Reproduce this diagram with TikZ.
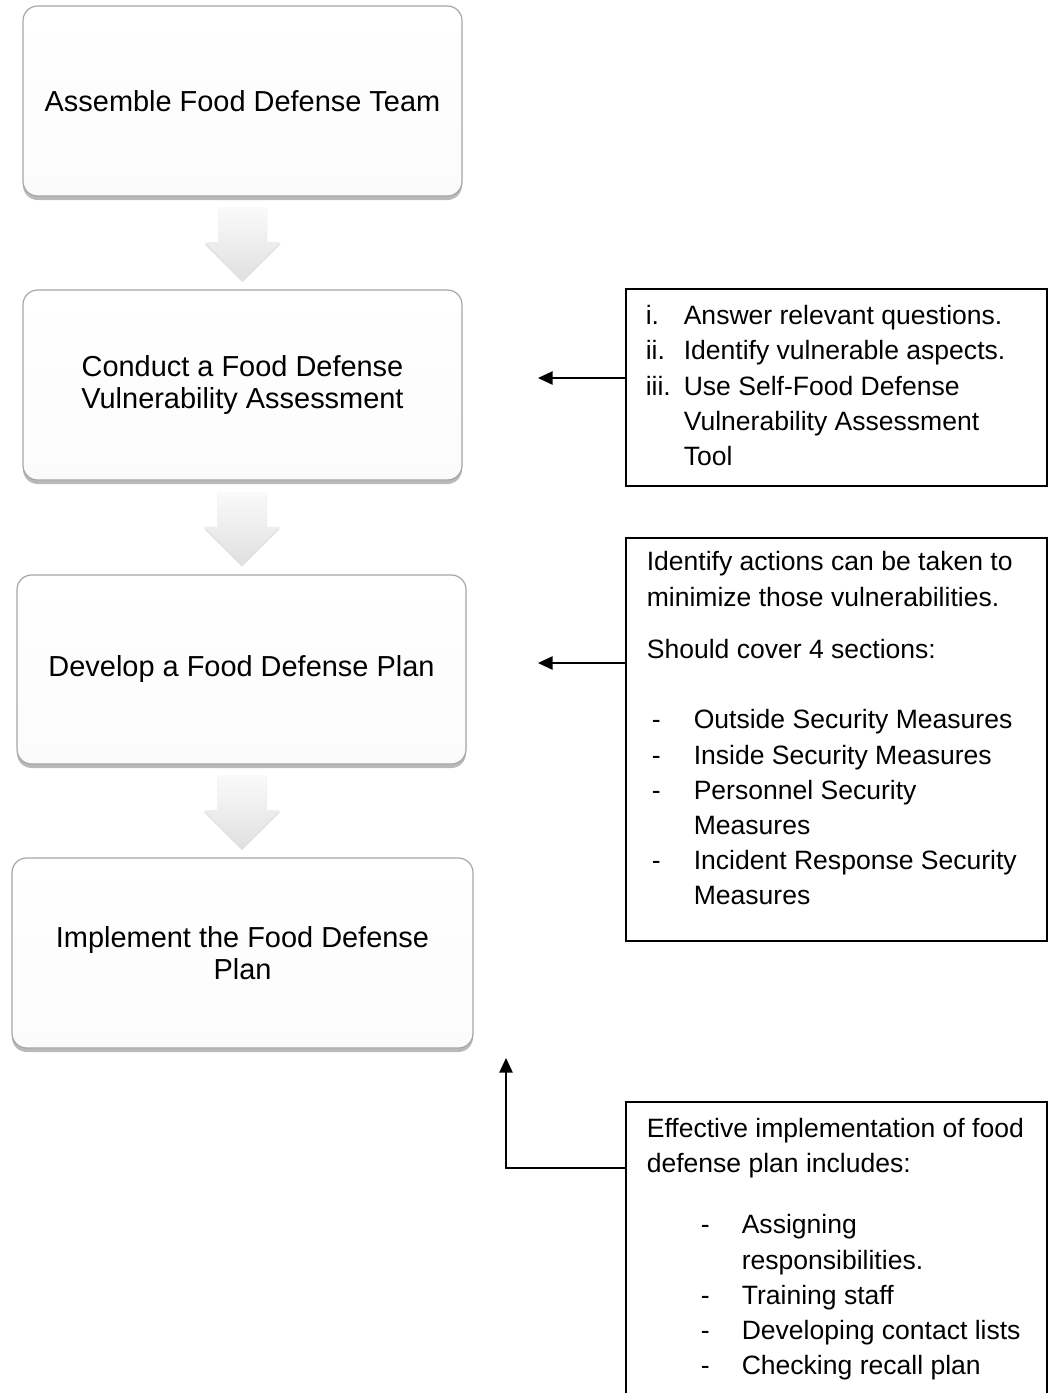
\documentclass[tikz,border=0pt]{standalone}
\usepackage{fontspec}
\setmainfont{Liberation Sans}
\usetikzlibrary{shadows,arrows.meta,calc}
\tikzset{
  stepbox/.style={rectangle, rounded corners=11pt, draw=gray!70, line width=0.9pt,
    top color=white, bottom color=gray!3,
    drop shadow={opacity=0.55, shadow xshift=0pt, shadow yshift=-3pt},
    align=center, font=\fontsize{21.7}{24}\selectfont, inner sep=0pt},
  notebox/.style={rectangle, draw=black, line width=1.2pt, inner sep=0pt,
    anchor=north west, fill=white},
  conn/.style={line width=1.2pt, -{Triangle[length=11pt,width=10pt]}},
  downarrow/.pic={
    \shade[top color=gray!4, bottom color=gray!24,
      drop shadow={opacity=0.25, shadow xshift=0pt, shadow yshift=-1.5pt}]
      (-24.5,-36) -- (24.5,-36) -- (24.5,-1) -- (38,-1) -- (0,37)
      -- (-38,-1) -- (-24.5,-1) -- cycle;
  }
}
\newcommand{\notefont}{\fontsize{19.9}{26.4}\selectfont\raggedright}
\begin{document}
\begin{tikzpicture}[x=0.75pt,y=-0.75pt]
\clip (0,0) rectangle (1050,1393);
\fill[white] (0,0) rectangle (1050,1393);

% left flow boxes
\node[stepbox, minimum width=329.25pt, minimum height=142.5pt] (b1) at (242.5,101)
  {Assemble Food Defense Team};
\node[stepbox, minimum width=329.25pt, minimum height=142.5pt] (b2) at (242.5,385)
  {Conduct a Food Defense\\Vulnerability Assessment};
\node[stepbox, minimum width=336.75pt, minimum height=141.75pt] (b3) at (241.5,669.5)
  {Develop a Food Defense Plan};
\node[stepbox, minimum width=345.75pt, minimum height=142.5pt] (b4) at (242.5,953)
  {Implement the Food Defense\\Plan};

% block arrows between boxes
\pic at ($(b1.south)!0.5!(b2.north)$) {downarrow};
\pic at ($(b2.south)!0.5!(b3.north)$) {downarrow};
\pic at ($(b3.south)!0.5!(b4.north)$) {downarrow};

% note boxes
\node[notebox] (r1) at (625,288) {\parbox[c][147.75pt][t]{315.75pt}{\notefont
\vspace*{8.5pt}
\hspace*{15pt}\strut\makebox[28.5pt][l]{i.}Answer relevant questions.\par
\hspace*{15pt}\makebox[28.5pt][l]{ii.}Identify vulnerable aspects.\par
\hspace*{15pt}\makebox[28.5pt][l]{iii.}Use Self-Food Defense\par
\hspace*{43.5pt}Vulnerability Assessment\par
\hspace*{43.5pt}Tool\par}};

\node[notebox] (r2) at (625,537) {\parbox[c][302.25pt][t]{315.75pt}{\notefont
\vspace*{6.3pt}
\hspace*{15.75pt}\strut Identify actions can be taken to\par
\hspace*{15.75pt}minimize those vulnerabilities.\par
\vspace{13.3pt}
\hspace*{15.75pt}Should cover 4 sections:\par
\vspace{26pt}
\hspace*{19.5pt}\makebox[31.5pt][l]{-}Outside Security Measures\par
\hspace*{19.5pt}\makebox[31.5pt][l]{-}Inside Security Measures\par
\hspace*{19.5pt}\makebox[31.5pt][l]{-}Personnel Security\par
\hspace*{51pt}Measures\par
\hspace*{19.5pt}\makebox[31.5pt][l]{-}Incident Response Security\par
\hspace*{51pt}Measures\par}};

\node[notebox] (r3) at (625,1101) {\parbox[c][300pt][t]{315.75pt}{\notefont
\vspace*{8.5pt}
\hspace*{15.75pt}\strut Effective implementation of food\par
\hspace*{15.75pt}defense plan includes:\par
\vspace{19.3pt}
\hspace*{56.25pt}\makebox[30.75pt][l]{-}Assigning\par
\hspace*{87pt}responsibilities.\par
\hspace*{56.25pt}\makebox[30.75pt][l]{-}Training staff\par
\hspace*{56.25pt}\makebox[30.75pt][l]{-}Developing contact lists\par
\hspace*{56.25pt}\makebox[30.75pt][l]{-}Checking recall plan\par}};

% connectors
\coordinate (e1) at (538,378);
\draw[conn] (r1.west |- e1) -- (e1);
\coordinate (e2) at (538,663);
\draw[conn] (r2.west |- e2) -- (e2);
\coordinate (k3) at (506,1168);
\coordinate (e3) at (506,1058);
\draw[conn] (r3.west |- k3) -- (k3) -- (e3);
\end{tikzpicture}
\end{document}
